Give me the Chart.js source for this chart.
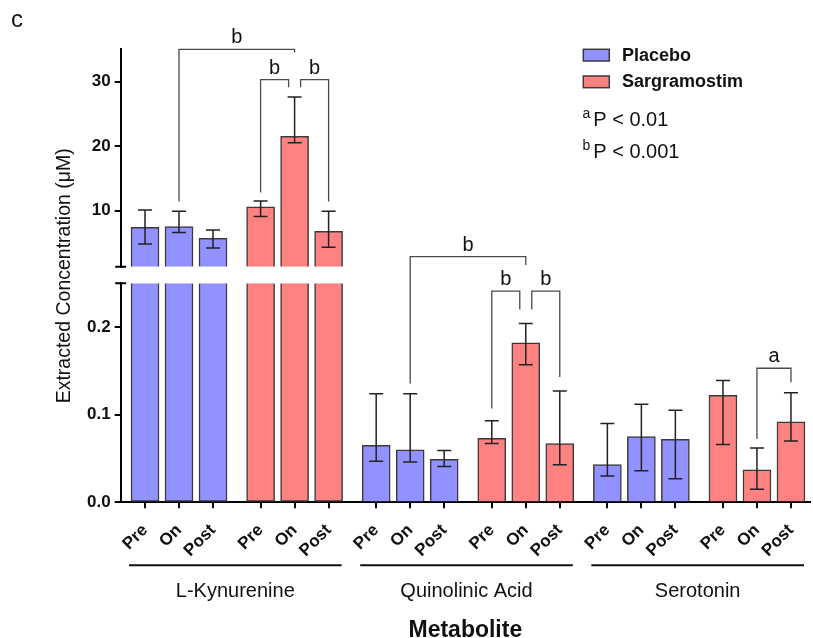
<!DOCTYPE html>
<html>
<head>
<meta charset="utf-8">
<script src="https://cdn.jsdelivr.net/npm/chart.js@4.4.0/dist/chart.umd.min.js"></script>
<style>
  html, body { margin: 0; padding: 0; background: #fff; }
  canvas { display: block; }
</style>
</head>
<body>
<canvas id="myChart" width="813" height="638"></canvas>
<script>
const metabolites = ['L-Kynurenine', 'Quinolinic Acid', 'Serotonin'];
const timepoints = ['Pre', 'On', 'Post'];
const groups = ['Placebo', 'Sargramostim'];

// order: L-Kynurenine (Pre, On, Post), Quinolinic Acid (...), Serotonin (...)
const placeboMean = [7.4, 7.5, 5.7, 0.065, 0.060, 0.049, 0.043, 0.075, 0.072];
const placeboLow  = [4.8, 6.6, 4.2, 0.047, 0.046, 0.041, 0.030, 0.036, 0.027];
const placeboHigh = [10.1, 9.9, 7.0, 0.124, 0.124, 0.059, 0.090, 0.112, 0.105];
const sargMean = [10.6, 21.5, 6.8, 0.073, 0.182, 0.067, 0.122, 0.037, 0.092];
const sargLow  = [9.1, 20.5, 4.3, 0.067, 0.157, 0.043, 0.066, 0.015, 0.070];
const sargHigh = [11.5, 27.6, 9.9, 0.093, 0.204, 0.127, 0.139, 0.062, 0.125];

const lowerTicks = [0, 0.1, 0.2];
const lowerTickLabels = ['0.0', '0.1', '0.2'];
const upperTicks = [10, 20, 30];
const upperTickLabels = ['10', '20', '30'];

// significance brackets: [from bar, to bar, level, left leg end, right leg end, label]
// bars are numbered 0..17: metabolite, then Placebo/Sargramostim, then Pre/On/Post
const brackets = [
  [1, 4, 35.0, 11.4, 34.5, 'b'],
  [3, 4, 30.3, 12.8, 29.1, 'b'],
  [4, 5, 30.3, 29.1, 11.4, 'b'],
  [7, 10, 0.2805, 0.1356, 0.2708, 'b'],
  [9, 10, 0.241, 0.107, 0.220, 'b'],
  [10, 11, 0.241, 0.220, 0.143, 'b'],
  [16, 17, 0.153, 0.0724, 0.137, 'a']
];

const lowerMax = 0.25;
const upperMin = 1.3;
const upperMax = 35;

const colors = ['#9191ff', '#ff8282'];
const edge = '#3a3a3a';
const font = '"Liberation Sans", Arial, sans-serif';

const barIndex = (i, g) => Math.floor(i / 3) * 6 + g * 3 + (i % 3);
const barX = b => b + Math.floor(b / 3) * 0.4;
const barPositions = [];
for (let b = 0; b < metabolites.length * 6; b++) barPositions.push(barX(b));

function buildBars(means, g) {
  const low = [], up = [];
  means.forEach((v, i) => {
    const x = barX(barIndex(i, g));
    low.push({x: x, y: Math.min(v, lowerMax)});
    if (v > lowerMax) up.push({x: x, y: [upperMin, v]});
  });
  return {low, up};
}

const placeboBars = buildBars(placeboMean, 0);
const sargBars = buildBars(sargMean, 1);

const usesUpper = m => [placeboMean, sargMean].some(arr => arr.slice(m * 3, m * 3 + 3).some(v => v > lowerMax));

function barSet(label, data, g, axis) {
  return {
    label: label,
    data: data,
    yAxisID: axis,
    backgroundColor: colors[g],
    borderColor: edge,
    borderWidth: 1.5,
    barThickness: 28,
    grouped: false,
    borderSkipped: axis === 'y' ? (ctx => (ctx.raw && ctx.raw.y >= lowerMax ? 'top' : 'start')) : 'start'
  };
}

const overlay = {
  id: 'overlay',
  afterDatasetsDraw(chart) {
    const {ctx, chartArea, scales} = chart;
    const xs = scales.x, yLow = scales.y, yUp = scales.yUp;
    ctx.save();

    // error bars
    [[placeboMean, placeboLow, placeboHigh, 0], [sargMean, sargLow, sargHigh, 1]].forEach(([mean, lo, hi, g]) => {
      mean.forEach((v, i) => {
        const ys = v > lowerMax ? yUp : yLow;
        const px = xs.getPixelForValue(barX(barIndex(i, g)));
        const p1 = ys.getPixelForValue(lo[i]);
        const p2 = ys.getPixelForValue(hi[i]);
        ctx.strokeStyle = '#222';
        ctx.lineWidth = 1.5;
        ctx.beginPath();
        ctx.moveTo(px, p1); ctx.lineTo(px, p2);
        ctx.moveTo(px - 7, p1); ctx.lineTo(px + 7, p1);
        ctx.moveTo(px - 7, p2); ctx.lineTo(px + 7, p2);
        ctx.stroke();
      });
    });

    // brackets
    brackets.forEach(br => {
      const [from, to, level, legA, legB, label] = br;
      const ys = usesUpper(Math.floor(from / 6)) ? yUp : yLow;
      let xa = xs.getPixelForValue(barX(from));
      let xb = xs.getPixelForValue(barX(to));
      if (brackets.some(o => o !== br && o[2] === level && (o[0] === from || o[1] === from))) xa += 6;
      if (brackets.some(o => o !== br && o[2] === level && (o[0] === to || o[1] === to))) xb -= 6;
      const yl = ys.getPixelForValue(level);
      ctx.strokeStyle = '#4a4a4a';
      ctx.lineWidth = 1.3;
      ctx.beginPath();
      ctx.moveTo(xa, ys.getPixelForValue(legA));
      ctx.lineTo(xa, yl);
      ctx.lineTo(xb, yl);
      ctx.lineTo(xb, ys.getPixelForValue(legB));
      ctx.stroke();
      ctx.fillStyle = '#111';
      ctx.font = '20px ' + font;
      ctx.textAlign = 'center';
      ctx.textBaseline = 'alphabetic';
      ctx.fillText(label, (xa + xb) / 2, yl - 6);
    });

    // axis break caps
    const ax = chartArea.left;
    ctx.strokeStyle = '#000';
    ctx.lineWidth = 2;
    ctx.beginPath();
    ctx.moveTo(ax - 5.5, yUp.bottom); ctx.lineTo(ax + 5.5, yUp.bottom);
    ctx.moveTo(ax - 5.5, yLow.top); ctx.lineTo(ax + 5.5, yLow.top);
    ctx.stroke();

    // metabolite group lines and names
    metabolites.forEach((name, m) => {
      const x1 = xs.getPixelForValue(barX(m * 6)) - 16;
      const x2 = xs.getPixelForValue(barX(m * 6 + 5)) + 13;
      const ly = chartArea.bottom + 63;
      ctx.strokeStyle = '#111';
      ctx.lineWidth = 2;
      ctx.beginPath();
      ctx.moveTo(x1, ly); ctx.lineTo(x2, ly);
      ctx.stroke();
      ctx.fillStyle = '#111';
      ctx.font = '20px ' + font;
      ctx.textAlign = 'center';
      ctx.textBaseline = 'alphabetic';
      ctx.fillText(name, (x1 + x2) / 2, chartArea.bottom + 94.5);
    });

    // y axis title across both segments
    ctx.save();
    ctx.translate(70, (chartArea.top + chartArea.bottom) / 2);
    ctx.rotate(-Math.PI / 2);
    ctx.fillStyle = '#111';
    ctx.font = '19.5px ' + font;
    ctx.textAlign = 'center';
    ctx.textBaseline = 'alphabetic';
    ctx.fillText('Extracted Concentration (\u03bcM)', 0, 0);
    ctx.restore();

    // panel letter
    ctx.fillStyle = '#111';
    ctx.font = '24px ' + font;
    ctx.textAlign = 'left';
    ctx.fillText('c', 11, 26.7);

    // legend
    groups.forEach((g, k) => {
      const top = 49.3 + k * 26.7;
      ctx.fillStyle = colors[k];
      ctx.fillRect(583.3, top, 26, 11.7);
      ctx.strokeStyle = edge;
      ctx.lineWidth = 1.5;
      ctx.strokeRect(583.3, top, 26, 11.7);
      ctx.fillStyle = '#111';
      ctx.font = 'bold 18px ' + font;
      ctx.textBaseline = 'middle';
      ctx.fillText(g, 622, top + 6.5);
    });
    ctx.textBaseline = 'alphabetic';
    [['a', 'P < 0.01', 125.7], ['b', 'P < 0.001', 158.3]].forEach(([sup, txt, base]) => {
      ctx.font = '14px ' + font;
      ctx.fillText(sup, 582.5, base - 8);
      ctx.font = '20px ' + font;
      ctx.fillText(txt, 593.3, base);
    });

    ctx.restore();
  }
};

const chart = new Chart(document.getElementById('myChart'), {
  type: 'bar',
  data: {
    datasets: [
      barSet(groups[0], placeboBars.low, 0, 'y'),
      barSet(groups[1], sargBars.low, 1, 'y'),
      barSet(groups[0], placeboBars.up, 0, 'yUp'),
      barSet(groups[1], sargBars.up, 1, 'yUp')
    ]
  },
  options: {
    responsive: false,
    animation: false,
    devicePixelRatio: 1,
    layout: { padding: { top: 49.3, right: 3, bottom: 0, left: 60.7 } },
    plugins: { legend: { display: false }, tooltip: { enabled: false } },
    scales: {
      x: {
        type: 'linear',
        offset: false,
        min: -0.715,
        max: 19.56,
        afterBuildTicks: s => { s.ticks = barPositions.map(v => ({value: v})); },
        ticks: {
          autoSkip: false,
          minRotation: 45,
          maxRotation: 45,
          callback: (v, i) => timepoints[i % 3],
          font: { family: font, weight: 'bold', size: 17 },
          color: '#111',
          padding: 12
        },
        grid: { drawOnChartArea: false, offset: false, tickLength: 6, color: '#000', lineWidth: 2 },
        border: { color: '#000', width: 2 },
        title: {
          display: true,
          text: 'Metabolite',
          font: { family: font, weight: 'bold', size: 23, lineHeight: 1 },
          color: '#111',
          padding: { top: 0, bottom: -4 }
        },
        afterFit: s => { s.height = 135.7; s.paddingLeft = 0; s.paddingRight = 0; }
      },
      y: {
        type: 'linear',
        position: 'left',
        stack: 'v',
        stackWeight: 219,
        min: 0,
        max: lowerMax,
        afterBuildTicks: s => { s.ticks = lowerTicks.map(v => ({value: v})); },
        ticks: {
          callback: (v, i) => lowerTickLabels[i],
          font: { family: font, weight: 'bold', size: 17 },
          color: '#111',
          padding: 4
        },
        grid: { drawOnChartArea: false, tickLength: 6, color: '#000', lineWidth: 2 },
        border: { color: '#000', width: 2 },
        afterFit: s => { s.width = 60; s.paddingTop = 0; s.paddingBottom = 0; }
      },
      yGap: {
        type: 'linear',
        position: 'left',
        stack: 'v',
        stackWeight: 16.6,
        display: false
      },
      yUp: {
        type: 'linear',
        position: 'left',
        stack: 'v',
        stackWeight: 217.4,
        min: upperMin,
        max: upperMax,
        afterBuildTicks: s => { s.ticks = upperTicks.map(v => ({value: v})); },
        ticks: {
          callback: (v, i) => upperTickLabels[i],
          font: { family: font, weight: 'bold', size: 17 },
          color: '#111',
          padding: 4
        },
        grid: { drawOnChartArea: false, tickLength: 6, color: '#000', lineWidth: 2 },
        border: { color: '#000', width: 2 },
        afterFit: s => { s.width = 60; s.paddingTop = 0; s.paddingBottom = 0; }
      }
    }
  },
  plugins: [overlay]
});
</script>
</body>
</html>
